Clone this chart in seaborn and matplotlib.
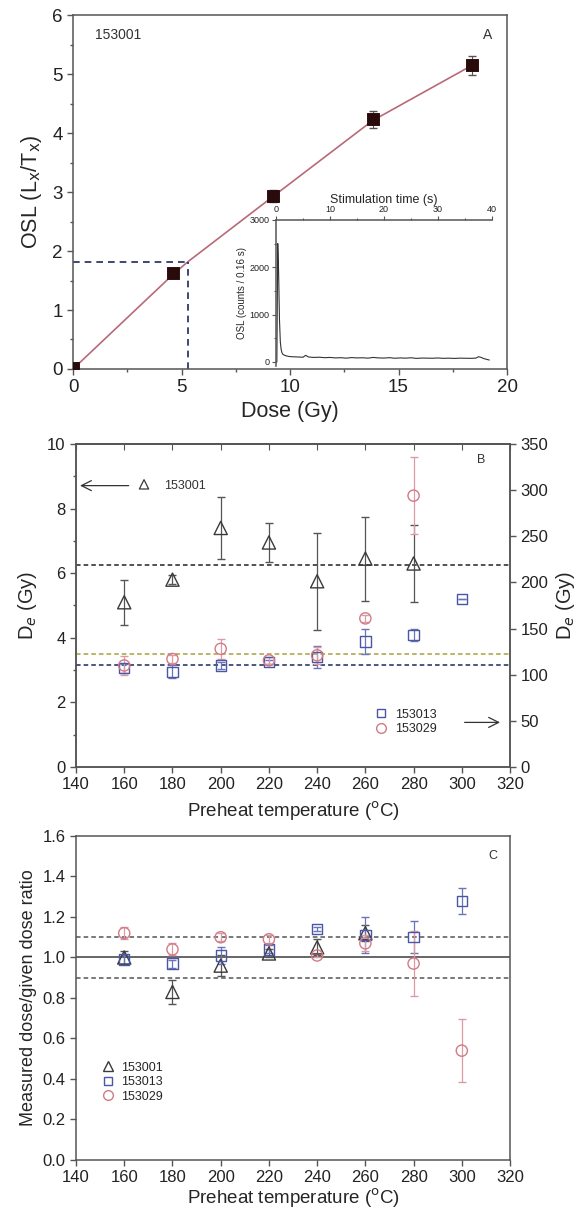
import matplotlib
matplotlib.use('Agg')
import matplotlib.pyplot as plt
import seaborn as sns
from matplotlib.lines import Line2D
from matplotlib.ticker import MultipleLocator, FormatStrFormatter

## Data
# A: dose response curve of 153001
dose = [0, 4.6, 9.2, 13.8, 18.4]
lxtx = [0.02, 1.62, 2.93, 4.23, 5.15]
lxtx_err = [0.02, 0.08, 0.1, 0.15, 0.16]
fit_dose = [0, 4.6, 5.3, 9.2, 13.8, 18.4]
fit_lxtx = [0, 1.60, 1.82, 2.92, 4.21, 5.15]
de_nat = 5.3
lxtx_nat = 1.82

# A inset: OSL decay curve
stim_time = [0, 0.16, 0.32, 0.48, 0.64, 0.8, 0.96, 1.12, 1.28,
             1.6, 2.0, 2.4, 3, 4, 5, 5.5, 6,
             7, 8, 9, 10, 11, 12, 13, 14, 15, 16, 17, 18, 19, 20, 21, 22,
             23, 24, 25, 26, 27, 28, 29, 30, 31, 32, 33, 34, 35, 36, 37,
             37.5, 38, 38.5, 39, 39.5]
osl_counts = [0, 0, 2500, 1900, 900, 420, 260, 190, 160,
              140, 125, 115, 110, 105, 100, 140, 105,
              95, 100, 90, 95, 85, 90, 80, 92, 85, 88, 80, 95, 85, 82, 90, 78,
              85, 80, 88, 75, 82, 80, 78, 84, 76, 80, 74, 80, 78, 76, 80,
              110, 95, 70, 55, 40]

# B: De vs preheat temperature
temps = [160, 180, 200, 220, 240, 260, 280, 300]
de_153001 = [5.1, 5.8, 7.4, 6.95, 5.75, 6.45, 6.3]
de_153001_err = [0.7, 0.15, 0.95, 0.6, 1.5, 1.3, 1.2]
de_153013 = [107, 103, 110, 114, 119, 136, 143, 182]
de_153013_err = [5, 7, 4, 2, 12, 14, 7, 0]
de_153029 = [110, 117, 128, 115.5, 121, 161, 294]
de_153029_err = [10, 4, 11, 4, 9, 4, 42]
mean_153001 = 6.25
mean_153013 = 110
mean_153029 = 122.5

# C: dose recovery ratio
ratio_153001 = [1.0, 0.83, 0.96, 1.02, 1.05, 1.12]
ratio_153001_err = [0.03, 0.06, 0.05, 0.02, 0.04, 0.04]
ratio_153013 = [0.99, 0.97, 1.01, 1.04, 1.14, 1.11, 1.10, 1.28]
ratio_153013_err = [0.02, 0.02, 0.04, 0.02, 0.01, 0.09, 0.08, 0.065]
ratio_153029 = [1.12, 1.04, 1.10, 1.09, 1.01, 1.07, 0.97, 0.54]
ratio_153029_err = [0.03, 0.03, 0.02, 0.02, 0.01, 0.04, 0.16, 0.155]

## Style
sns.set_style('ticks')
plt.rcParams['font.family'] = ['Liberation Sans', 'DejaVu Sans']
plt.rcParams['axes.edgecolor'] = '#555555'
plt.rcParams['axes.linewidth'] = 1.1
plt.rcParams['xtick.color'] = '#555555'
plt.rcParams['ytick.color'] = '#555555'
plt.rcParams['xtick.labelcolor'] = '#222222'
plt.rcParams['ytick.labelcolor'] = '#222222'

tri_col = '#3a3a3a'
sq_col = '#4a56a6'
circ_col = '#d27a86'

fig = plt.figure(figsize=(5.87, 12.13), dpi=100)
axA = fig.add_axes([0.1244, 0.6958, 0.7394, 0.2918])
axB = fig.add_axes([0.1295, 0.3677, 0.7394, 0.2663])
axC = fig.add_axes([0.1295, 0.0437, 0.7394, 0.2671])

def style_ticks(ax, size):
    ax.tick_params(which='major', direction='out', length=4, width=1, labelsize=size)
    ax.tick_params(which='minor', direction='out', length=2.5, width=1)

## Panel A
sns.lineplot(x=fit_dose, y=fit_lxtx, ax=axA, color='#b76a78', linewidth=1.2, sort=False)
axA.plot([0, de_nat], [lxtx_nat, lxtx_nat], ls=(0, (4, 3)), color='#1c2a5a', lw=1.2)
axA.plot([de_nat, de_nat], [0, lxtx_nat], ls=(0, (4, 3)), color='#1c2a5a', lw=1.2)
axA.errorbar(dose, lxtx, yerr=lxtx_err, fmt='none', ecolor='#555555', capsize=3, elinewidth=0.8)
sns.scatterplot(x=dose, y=lxtx, ax=axA, marker='s', s=70, color='#2a0b0b',
                edgecolor='#2a0b0b', zorder=5)
axA.set_xlim(0, 20)
axA.set_ylim(0, 6)
axA.xaxis.set_major_locator(MultipleLocator(5))
axA.xaxis.set_minor_locator(MultipleLocator(2.5))
axA.yaxis.set_major_locator(MultipleLocator(1))
axA.yaxis.set_minor_locator(MultipleLocator(0.5))
style_ticks(axA, 13.5)
axA.set_xlabel('Dose (Gy)', fontsize=15.5, labelpad=3)
axA.set_ylabel('OSL (L$_{\\mathrm{x}}$/T$_{\\mathrm{x}}$)', fontsize=15.5, labelpad=6)
axA.text(1.0, 5.6, '153001', fontsize=10, color='#333333')
axA.text(18.9, 5.6, 'A', fontsize=10, color='#333333')

# inset
axI = fig.add_axes([0.4702, 0.6983, 0.368, 0.1204])
axI.patch.set_alpha(0)
sns.lineplot(x=stim_time, y=osl_counts, ax=axI, color='#333333', linewidth=0.8, sort=False)
axI.set_xlim(0, 40)
axI.set_ylim(-85, 3000)
axI.xaxis.set_major_locator(MultipleLocator(10))
axI.xaxis.set_minor_locator(MultipleLocator(5))
axI.yaxis.set_major_locator(MultipleLocator(1000))
axI.yaxis.set_minor_locator(MultipleLocator(500))
axI.xaxis.tick_top()
axI.xaxis.set_label_position('top')
axI.spines['right'].set_visible(False)
axI.spines['bottom'].set_visible(False)
axI.tick_params(which='major', direction='out', length=3, width=0.8, labelsize=6.5, pad=1.5)
axI.tick_params(which='minor', direction='out', length=1.5, width=0.8)
axI.set_xlabel('Stimulation time (s)', fontsize=9, labelpad=1)
axI.set_ylabel('OSL (counts / 0.16 s)', fontsize=7, labelpad=2)

## Panel B
axB.axhline(mean_153001, ls=(0, (3, 2)), color='#222222', lw=1.1)
axB.errorbar(temps[:7], de_153001, yerr=de_153001_err, fmt='none', ecolor='#555555',
             capsize=3, elinewidth=0.9)
sns.scatterplot(x=temps[:7], y=de_153001, ax=axB, marker='^', s=90, facecolor='none',
                edgecolor=tri_col, linewidth=1.0, zorder=5)
axB.set_xlim(140, 320)
axB.set_ylim(0, 10)
axB.xaxis.set_major_locator(MultipleLocator(20))
axB.yaxis.set_major_locator(MultipleLocator(2))
axB.yaxis.set_minor_locator(MultipleLocator(1))
style_ticks(axB, 12)
axB.set_xlabel('Preheat temperature ($^{\\rm o}$C)', fontsize=13.5, labelpad=5)
axB.set_ylabel('D$_e$ (Gy)', fontsize=14.5, labelpad=6)
top = axB.secondary_xaxis('top')
top.xaxis.set_major_locator(MultipleLocator(20))
top.tick_params(direction='in', length=4, labeltop=False)

axB2 = axB.twinx()
axB2.axhline(mean_153029, ls=(0, (3, 2)), color='#a8a040', lw=1.1)
axB2.axhline(mean_153013, ls=(0, (3, 2)), color='#1c2a5a', lw=1.1)
axB2.errorbar(temps, de_153013, yerr=de_153013_err, fmt='none', ecolor='#6a74b8',
              capsize=3, elinewidth=0.9)
axB2.errorbar(temps[:7], de_153029, yerr=de_153029_err, fmt='none', ecolor='#dc9aa4',
              capsize=3, elinewidth=0.9)
sns.scatterplot(x=temps, y=de_153013, ax=axB2, marker='s', s=55, facecolor='none',
                edgecolor=sq_col, linewidth=1.0, zorder=5)
sns.scatterplot(x=temps[:7], y=de_153029, ax=axB2, marker='o', s=65, facecolor='none',
                edgecolor=circ_col, linewidth=1.0, zorder=5)
axB2.set_ylim(0, 350)
axB2.yaxis.set_major_locator(MultipleLocator(50))
style_ticks(axB2, 12)
axB2.set_ylabel('D$_e$ (Gy)', fontsize=14.5, labelpad=4)

axB.annotate('', xy=(140.5, 8.71), xytext=(163, 8.71),
             arrowprops=dict(arrowstyle='->', color='#333333', lw=0.9, mutation_scale=18))
axB.text(176.5, 8.71, '153001', fontsize=9, va='center', color='#333333')
axB.scatter([168.2], [8.75], marker='^', s=45, facecolor='none', edgecolor=tri_col, lw=0.9)
axB.text(306.5, 9.5, 'B', fontsize=9, va='center', color='#333333')
legB = axB.legend(handles=[
    Line2D([], [], marker='s', ls='none', mfc='none', mec=sq_col, ms=6, label='153013'),
    Line2D([], [], marker='o', ls='none', mfc='none', mec=circ_col, ms=7, label='153029')],
    loc='center left', bbox_to_anchor=(0.66, 0.14), frameon=False, fontsize=9,
    handletextpad=0.5, labelspacing=0.2, handlelength=1.2)
axB.annotate('', xy=(317, 1.38), xytext=(300, 1.38),
             arrowprops=dict(arrowstyle='->', color='#333333', lw=0.9, mutation_scale=18))

## Panel C
axC.axhline(1.0, color='#666666', lw=1.4)
axC.axhline(1.1, ls=(0, (3, 2)), color='#555555', lw=1.1)
axC.axhline(0.9, ls=(0, (3, 2)), color='#555555', lw=1.1)
axC.errorbar(temps[:6], ratio_153001, yerr=ratio_153001_err, fmt='none', ecolor='#555555',
             capsize=3, elinewidth=0.9)
axC.errorbar(temps, ratio_153013, yerr=ratio_153013_err, fmt='none', ecolor='#6a74b8',
             capsize=3, elinewidth=0.9)
axC.errorbar(temps, ratio_153029, yerr=ratio_153029_err, fmt='none', ecolor='#dc9aa4',
             capsize=3, elinewidth=0.9)
sns.scatterplot(x=temps[:6], y=ratio_153001, ax=axC, marker='^', s=90, facecolor='none',
                edgecolor=tri_col, linewidth=1.0, zorder=5)
sns.scatterplot(x=temps, y=ratio_153013, ax=axC, marker='s', s=55, facecolor='none',
                edgecolor=sq_col, linewidth=1.0, zorder=5)
sns.scatterplot(x=temps, y=ratio_153029, ax=axC, marker='o', s=65, facecolor='none',
                edgecolor=circ_col, linewidth=1.0, zorder=5)
axC.set_xlim(140, 320)
axC.set_ylim(0, 1.6)
axC.xaxis.set_major_locator(MultipleLocator(20))
axC.yaxis.set_major_locator(MultipleLocator(0.2))
axC.yaxis.set_major_formatter(FormatStrFormatter('%.1f'))
style_ticks(axC, 12)
axC.set_xlabel('Preheat temperature ($^{\\rm o}$C)', fontsize=13.5, labelpad=1)
axC.set_ylabel('Measured dose/given dose ratio', fontsize=13, labelpad=4)
axC.text(311, 1.5, 'C', fontsize=9, va='center', color='#333333')
axC.legend(handles=[
    Line2D([], [], marker='^', ls='none', mfc='none', mec=tri_col, ms=7, label='153001'),
    Line2D([], [], marker='s', ls='none', mfc='none', mec=sq_col, ms=6, label='153013'),
    Line2D([], [], marker='o', ls='none', mfc='none', mec=circ_col, ms=7, label='153029')],
    loc='center left', bbox_to_anchor=(0.03, 0.24), frameon=False, fontsize=9,
    handletextpad=0.5, labelspacing=0.2, handlelength=1.2)

fig.savefig('out.png', dpi=100)
